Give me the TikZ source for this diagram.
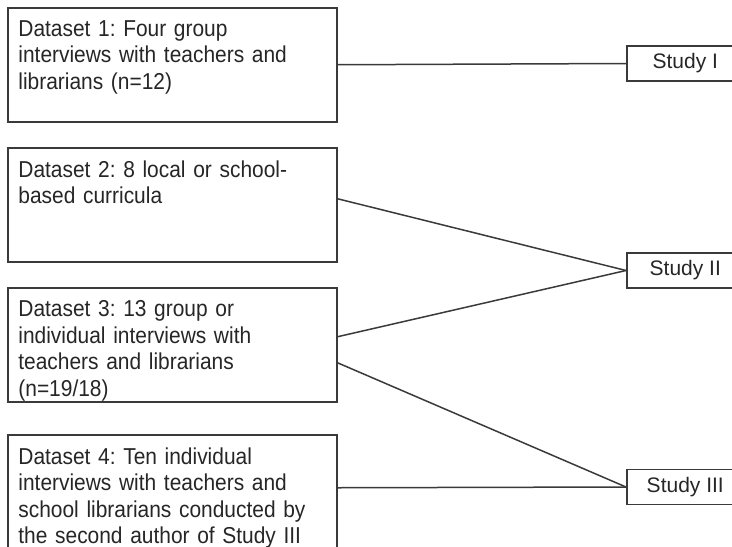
\documentclass[tikz,border=0pt]{standalone}
\usepackage{fontspec}
\setmainfont{Liberation Sans}[FakeStretch=0.91]
\newfontfamily\studyfont{Liberation Sans}
\usetikzlibrary{positioning}
\definecolor{linegray}{HTML}{3A3A3A}
\frenchspacing
\tikzset{
  databox/.style={draw=linegray, line width=0.75pt, minimum width=164.5pt, minimum height=57pt, anchor=north west, inner sep=0pt},
  datatext/.style={anchor=north west, text width=160pt, align=left, inner xsep=5.5pt, inner ysep=6.5pt, font=\fontsize{11.5}{13.3}\selectfont, text=black!85},
  studybox/.style={draw=linegray, line width=0.75pt, minimum width=58.5pt, minimum height=17.5pt, anchor=west, inner sep=0pt, font=\studyfont\fontsize{10.5}{12}\selectfont, text=black!85},
  link/.style={draw=linegray, line width=0.75pt}
}
\newcommand{\dataBox}[3]{
   	\node[databox] (#1) at (#2) {};
   	\node[datatext] (#1t) at (#1.north west) {#3};
}

\begin{document}
\begin{tikzpicture}[x=0.5pt, y=-0.5pt]
%%%%%%%%%%%%%%%%%%
\useasboundingbox (0,0) rectangle (732,546);
\clip (0,0) rectangle (732,546);

%Datasets
\dataBox{d1}{7,7}{Dataset 1: Four group\\interviews with teachers and\\librarians (n=12)}
\dataBox{d2}{7,147}{Dataset 2: 8 local or school-\\based curricula}
\dataBox{d3}{7,287}{Dataset 3: 13 group or\\individual interviews with\\teachers and librarians\\(n=19/18)}
\dataBox{d4}{7,434}{Dataset 4: Ten individual\\interviews with teachers and\\school librarians conducted by\\the second author of Study III}

%Studies
    \node[studybox] (s1) at (626,63.5) {Study I};
    \node[studybox] (s2) at (626,270.5) {Study II};
    \node[studybox] (s3) at (626,487) {Study III};

% Connect datasets with studies
    \draw[link] (d1.east) -- (s1.west);
    \draw[link] ([yshift=3pt]d2.east) -- (s2.west);
    \draw[link] ([yshift=4pt]d3.east) -- (s2.west);
    \draw[link] ([yshift=-9pt]d3.east) -- (s3.west);
    \draw[link] ([yshift=2pt]d4.east) -- (s3.west);

\end{tikzpicture}
\end{document}
